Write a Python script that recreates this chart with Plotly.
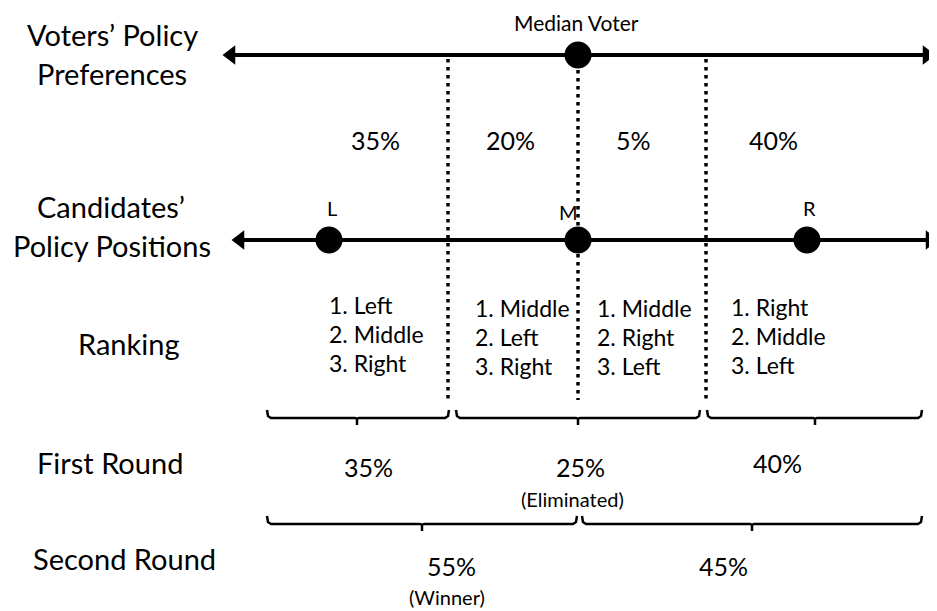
import plotly.graph_objects as go

# --- data ---
voter_shares = ["35%", "20%", "5%", "40%"]
candidates = ["L", "M", "R"]
rankings = [
    ["1. Left", "2. Middle", "3. Right"],
    ["1. Middle", "2. Left", "3. Right"],
    ["1. Middle", "2. Right", "3. Left"],
    ["1. Right", "2. Middle", "3. Left"],
]
first_round = ["35%", "25%", "40%"]
second_round = ["55%", "45%"]
row_labels = ["Voters’ Policy", "Preferences", "Candidates’", "Policy Positions",
              "Ranking", "First Round", "Second Round"]

# --- layout positions (pixel canvas) ---
W, H = 937, 611
PAD = 8  # page body margin
FONT = "Lato, Open Sans, sans-serif"
voter_y, cand_y = 55, 240
voter_ends = (224, 934)
cand_ends = (233, 937)
median_x = 578
cut_xs = [448, 578, 706]
cut_tops = [59, 70, 59]
cut_bot = 400
share_xs = [375, 510, 633, 773]
cand_xs = [329, 578, 807]
cand_lbl = [(332, 208), (568, 212), (809, 208)]
rank_pos = [(327, 305), (473, 308), (595, 308), (729, 307)]
row_lbl = [(112, 34), (112, 73), (111, 206), (112, 245), (129, 343), (110, 462), (124, 558)]

fig = go.Figure()

# dotted cut lines
for x, t in zip(cut_xs, cut_tops):
    fig.add_trace(go.Scatter(x=[x, x], y=[t, cut_bot], mode="lines",
                             line=dict(color="black", width=3.5, dash="3.5px,4.5px"),
                             hoverinfo="skip"))

# two horizontal arrows
for y, (a, b) in [(voter_y, voter_ends), (cand_y, cand_ends)]:
    fig.add_trace(go.Scatter(x=[a + 8, b - 8], y=[y, y], mode="lines",
                             line=dict(color="black", width=4), hoverinfo="skip"))
    fig.add_trace(go.Scatter(x=[a + 7, b - 7], y=[y, y], mode="markers",
                             marker=dict(symbol=["triangle-left", "triangle-right"],
                                         size=17, color="black"),
                             hoverinfo="skip"))

# dots
fig.add_trace(go.Scatter(x=[median_x], y=[voter_y], mode="markers",
                         marker=dict(size=27, color="black"), hoverinfo="skip"))
fig.add_trace(go.Scatter(x=cand_xs, y=[cand_y] * 3, mode="markers",
                         marker=dict(size=27, color="black"), hoverinfo="skip"))


def brace(x0, x1, xt, y):
    xs = [x0, x0 + 1, x0 + 4, xt - 2, xt, xt, xt, xt + 2, x1 - 4, x1 - 1, x1]
    ys = [y - 8, y - 2, y, y, y + 1, y + 7, y + 1, y, y, y - 2, y - 8]
    fig.add_trace(go.Scatter(x=xs, y=ys, mode="lines",
                             line=dict(color="black", width=2.5), hoverinfo="skip"))


for x0, x1, xt in [(267, 449, 357), (456, 700, 578), (707, 922, 815)]:
    brace(x0, x1, xt, 418)
for x0, x1, xt in [(267, 577, 422), (582, 922, 752)]:
    brace(x0, x1, xt, 524)

ann = []


def txt(x, y, s, size, anchor="center"):
    ann.append(dict(x=x, y=y, text=s, showarrow=False, xanchor=anchor, yanchor="middle",
                    font=dict(family=FONT, size=size, color="black")))


txt(576, 22, "Median Voter", 21)
for (x, y), s in zip(row_lbl, row_labels):
    txt(x, y, s, 29)
for x, s in zip(share_xs, voter_shares):
    txt(x, 140, s, 25)
for (x, y), s in zip(cand_lbl, candidates):
    txt(x, y, s, 20)
for (x, y), items in zip(rank_pos, rankings):
    for i, s in enumerate(items):
        txt(x, y + 29 * i, s, 23, "left")
for (x, y), s in zip([(368, 467), (580, 467), (777, 463)], first_round):
    txt(x, y, s, 25)
txt(572, 499, "(Eliminated)", 20)
for (x, y), s in zip([(451, 566), (723, 566)], second_round):
    txt(x, y, s, 25)
txt(447, 597, "(Winner)", 20)

# shift the canvas so coordinates equal page pixels despite the body margin
fig.update_layout(
    width=W - PAD, height=H - PAD, margin=dict(l=0, r=0, t=0, b=0),
    plot_bgcolor="white", paper_bgcolor="white", showlegend=False,
    xaxis=dict(range=[PAD, W], visible=False, fixedrange=True),
    yaxis=dict(range=[H, PAD], visible=False, fixedrange=True),
    annotations=ann,
)

fig.write_html("out.html")
